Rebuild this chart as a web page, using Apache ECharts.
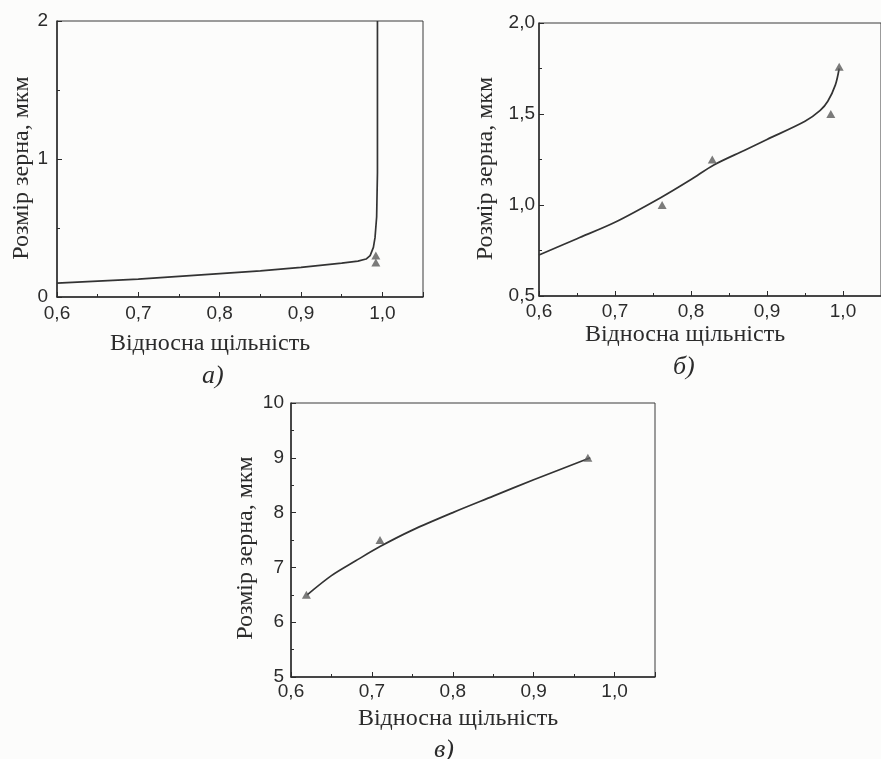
<!DOCTYPE html>
<html>
<head>
<meta charset="utf-8">
<script src="https://cdn.jsdelivr.net/npm/echarts@6/dist/echarts.min.js"></script>
<style>
html,body{margin:0;padding:0;background:#fcfcfb;}
#c{width:881px;height:759px;}
</style>
</head>
<body>
<div id="c"></div>
<script>
// ---- data ----
const xTitle = 'Відносна щільність';
const yTitle = 'Розмір зерна, мкм';
const panelLabels = ['а)', 'б)', 'в)'];

// panel а
const aCurveX = [0.6, 0.65, 0.7, 0.75, 0.8, 0.85, 0.9, 0.95, 0.97, 0.98, 0.985, 0.989, 0.991, 0.993, 0.994, 0.994];
const aCurveY = [0.10, 0.115, 0.13, 0.15, 0.17, 0.19, 0.215, 0.245, 0.26, 0.275, 0.30, 0.36, 0.43, 0.58, 0.9, 2.0];
const aPointsX = [0.992, 0.992];
const aPointsY = [0.30, 0.25];

// panel б
const bCurveX = [0.6, 0.65, 0.7, 0.76, 0.8, 0.83, 0.87, 0.9, 0.95, 0.97, 0.98, 0.99, 0.995];
const bCurveY = [0.725, 0.815, 0.905, 1.04, 1.14, 1.22, 1.30, 1.36, 1.46, 1.52, 1.57, 1.66, 1.75];
const bPointsX = [0.762, 0.828, 0.984, 0.995];
const bPointsY = [1.0, 1.25, 1.5, 1.76];

// panel в
const cCurveX = [0.62, 0.65, 0.68, 0.71, 0.75, 0.8, 0.85, 0.9, 0.97];
const cCurveY = [6.5, 6.85, 7.12, 7.38, 7.68, 8.0, 8.3, 8.6, 9.0];
const cPointsX = [0.619, 0.71, 0.967];
const cPointsY = [6.5, 7.5, 9.0];

// axis ranges / tick steps
const xRange = [0.6, 1.05, 0.1];
const aYRange = [0, 2, 1];
const bYRange = [0.5, 2.0, 0.5];
const cYRange = [5, 10, 1];

// ---- helpers ----
const zip = (xs, ys) => xs.map((x, i) => [x, ys[i]]);
const ink = '#2b2b2b';
const serif = '"Liberation Serif","DejaVu Serif",serif';
const sans = '"Liberation Sans","DejaVu Sans",sans-serif';
const comma = d => v => v.toFixed(d).replace('.', ',');

function xAxis(idx, gap, shift, lblMargin) {
  return {
    gridIndex: idx, type: 'value', min: xRange[0], max: xRange[1], interval: xRange[2],
    axisLine: {lineStyle: {color: ink, width: 1.5}},
    axisTick: {inside: true, length: 5, lineStyle: {color: ink}},
    minorTick: {show: true, splitNumber: 2, length: 3, lineStyle: {color: ink}},
    splitLine: {show: false},
    axisLabel: {formatter: comma(1), showMaxLabel: false, color: ink, fontFamily: sans, fontSize: 19, margin: lblMargin},
    name: xTitle, nameLocation: 'middle', nameGap: gap,
    nameTextStyle: {fontFamily: serif, fontSize: 24, color: ink, padding: [0, shift, 0, 0]}
  };
}
function yAxis(idx, r, dec, gap, shift, lblMargin) {
  return {
    gridIndex: idx, type: 'value', min: r[0], max: r[1], interval: r[2],
    axisLine: {lineStyle: {color: ink, width: 1.5}},
    axisTick: {inside: true, length: 5, lineStyle: {color: ink}},
    minorTick: {show: true, splitNumber: 2, length: 3, lineStyle: {color: ink}},
    splitLine: {show: false},
    axisLabel: {formatter: comma(dec), color: ink, fontFamily: sans, fontSize: 19, margin: lblMargin},
    name: yTitle, nameLocation: 'middle', nameGap: gap,
    nameTextStyle: {fontFamily: serif, fontSize: 24, color: ink, padding: [0, shift, 0, 0]}
  };
}
function curve(idx, data) {
  return {type: 'line', xAxisIndex: idx, yAxisIndex: idx, data: data, showSymbol: false,
    smooth: idx === 0 ? false : 0.3, lineStyle: {color: '#333', width: 1.7}, clip: true, z: 3};
}
function pts(idx, data) {
  return {type: 'scatter', xAxisIndex: idx, yAxisIndex: idx, data: data, symbol: 'triangle',
    symbolSize: [9, 8], itemStyle: {color: '#5a5a5a'}, z: 4};
}
const gridBase = {show: true, borderColor: '#3a3a3a', borderWidth: 1, backgroundColor: 'transparent'};

const chart = echarts.init(document.getElementById('c'));
chart.setOption({
  backgroundColor: '#fcfcfb',
  animation: false,
  grid: [
    Object.assign({left: 57, top: 21, width: 366, height: 276}, gridBase),
    Object.assign({left: 539, top: 23, width: 343, height: 273}, gridBase),
    Object.assign({left: 291, top: 403, width: 364, height: 274}, gridBase)
  ],
  xAxis: [xAxis(0, 35, 60, 7), xAxis(1, 27, 50, 6), xAxis(2, 30, 30, 5)],
  yAxis: [yAxis(0, aYRange, 0, 20, 18, 9), yAxis(1, bYRange, 1, 41, 18, 4), yAxis(2, cYRange, 0, 33, 16, 7)],
  series: [
    curve(0, zip(aCurveX, aCurveY)), pts(0, zip(aPointsX, aPointsY)),
    curve(1, zip(bCurveX, bCurveY)), pts(1, zip(bPointsX, bPointsY)),
    curve(2, zip(cCurveX, cCurveY)), pts(2, zip(cPointsX, cPointsY))
  ],
  graphic: [
    {type: 'text', left: 202, top: 363, style: {text: panelLabels[0], font: 'italic 26px ' + serif, fill: ink}},
    {type: 'text', left: 673, top: 354, style: {text: panelLabels[1], font: 'italic 26px ' + serif, fill: ink}},
    {type: 'text', left: 434, top: 737, style: {text: panelLabels[2], font: 'italic 26px ' + serif, fill: ink}}
  ]
});
</script>
</body>
</html>
